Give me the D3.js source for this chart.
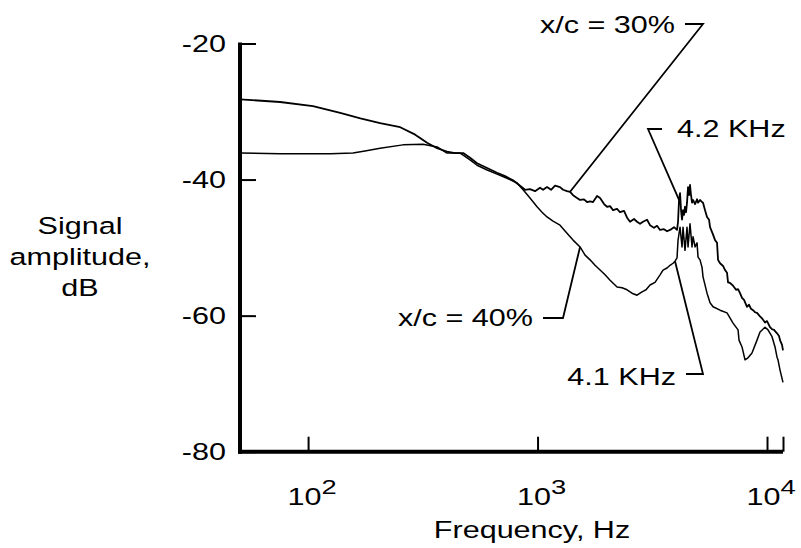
<!DOCTYPE html>
<html>
<head>
<meta charset="utf-8">
<script src="https://cdn.jsdelivr.net/npm/d3@7"></script>
<style>
  body { margin: 0; background: #fff; }
  svg { display: block; }
  text { font-family: "Liberation Sans", Arial, Helvetica, sans-serif; fill: #000; }
</style>
</head>
<body>
<svg id="chart" width="801" height="548"></svg>
<script>
// x/c = 30% (frequency in Hz, amplitude in dB)
const freq30 = [50.5, 75.5, 105, 138, 169, 206, 252, 293, 330, 365, 403, 437, 474, 508, 545, 603, 666, 722, 782, 839,
  882, 927, 975, 1025, 1057, 1100, 1145, 1192, 1253, 1292, 1344, 1386, 1428, 1486, 1532, 1594, 1643, 1694, 1745, 1817,
  1873, 1949, 2009, 2070, 2133, 2221, 2288, 2382, 2455, 2530, 2633, 2713, 2797, 2882, 3000, 3092, 3218, 3317, 3418, 3557,
  3667, 3779, 3934, 4054, 4095, 4136, 4178, 4220, 4262, 4305, 4348, 4392, 4437, 4481, 4527, 4572, 4618, 4665, 4712, 4760,
  4857, 4955, 5005, 5106, 5210, 5262, 5369, 5478, 5590, 5646, 5819, 5936, 6057, 6118, 6242, 6433, 6561, 6695, 6763, 6900,
  7111, 7329, 7477, 7627, 7781, 7941, 8182, 8347, 8516, 8690, 8864, 9045, 9322, 9511, 9607, 9802, 10000, 10306, 10515, 10727,
  11056, 11280, 11394, 11627, 11740];
const amp30 = [-28.2, -28.6, -29.2, -30.2, -31.0, -31.7, -32.3, -33.4, -34.6, -35.4, -35.9, -36.1, -36.1, -36.8, -37.6, -38.3, -39.0, -39.5, -40.1, -40.9,
  -41.5, -41.4, -41.7, -41.2, -41.5, -41.1, -41.5, -40.9, -41.1, -41.5, -41.7, -41.8, -42.3, -42.7, -43.0, -42.9, -43.3, -43.2, -43.3, -42.4,
  -42.7, -43.6, -44.0, -43.9, -44.5, -44.3, -44.8, -44.6, -45.6, -46.2, -45.8, -46.2, -46.5, -46.2, -45.9, -46.7, -47.1, -46.8, -47.4, -47.3,
  -47.6, -47.4, -47.0, -47.4, -46.2, -43.0, -42.0, -44.5, -45.9, -44.5, -45.2, -44.0, -44.8, -43.4, -41.1, -42.3, -40.8, -42.3, -43.4, -43.0,
  -43.6, -42.9, -43.4, -43.0, -43.3, -43.4, -44.5, -45.5, -45.9, -47.0, -48.1, -48.9, -49.3, -51.8, -52.3, -52.7, -53.3, -53.7, -55.1, -55.2,
  -55.6, -56.2, -56.1, -56.7, -57.4, -57.7, -58.7, -58.4, -59.0, -59.2, -59.5, -59.6, -60.1, -60.4, -60.6, -61.0, -60.8, -61.7, -62.0, -62.1,
  -62.6, -63.0, -63.6, -64.3, -65.1];

// x/c = 40%
const freq40 = [50.5, 75.5, 125, 157, 177, 206, 259, 317, 365, 403, 460, 508, 545, 603, 666, 736, 814, 865, 927, 995,
  1046, 1100, 1168, 1253, 1344, 1428, 1532, 1611, 1694, 1780, 1873, 1969, 2070, 2221, 2335, 2455, 2580, 2713, 2853, 2970,
  3092, 3251, 3418, 3523, 3667, 3779, 3894, 3973, 4054, 4095, 4178, 4262, 4305, 4392, 4481, 4527, 4618, 4712, 4760, 4857,
  4955, 5005, 5106, 5210, 5262, 5478, 5646, 5819, 6242, 6695, 7111, 7477, 7551, 7781, 8019, 8264, 8602, 9045, 9322, 9802,
  10100, 10515, 10837, 11056, 11167, 11394, 11740];
const amp40 = [-36.1, -36.2, -36.2, -36.1, -35.8, -35.4, -34.9, -34.8, -35.2, -36.1, -36.1, -37.1, -37.9, -38.6, -39.2, -39.8, -40.5, -41.5, -42.7, -44.0,
  -44.8, -45.5, -46.1, -46.7, -47.9, -48.9, -49.9, -51.1, -51.8, -52.6, -53.3, -54.0, -54.8, -55.8, -55.9, -56.2, -56.7, -57.0, -56.5, -56.2,
  -55.5, -55.1, -54.0, -53.3, -53.0, -52.6, -52.3, -52.0, -51.5, -48.9, -47.0, -49.9, -47.0, -50.4, -47.0, -49.9, -46.5, -49.9, -48.4, -49.9,
  -49.3, -51.4, -51.8, -52.9, -54.3, -56.7, -58.1, -58.7, -59.2, -59.6, -61.1, -62.1, -63.6, -64.6, -66.5, -66.2, -65.5, -63.6, -62.4, -61.7,
  -62.1, -63.1, -64.6, -66.1, -66.5, -68.0, -69.8];

const yTicks = [-20, -40, -60, -80];
const xTicks = [100, 1000, 10000];
const xTickExp = ['2', '3', '4'];

// callouts: label and the point on the curve the leader goes to
const noteLabels = ['x/c = 30%', '4.2 KHz', 'x/c = 40%', '4.1 KHz'];
const noteFreq = [1386, 4136, 1532, 3973];
const noteAmp = [-41.8, -43.0, -49.9, -52.0];

const svg = d3.select('#chart');
const fontSize = 23.5;
const stretch = 1.3; // the original lettering is wide

const x = d3.scaleLog().domain([50.5, 11740]).range([240, 783]);
const y = d3.scaleLinear().domain([-80, -20]).range([451.7, 43.5]);

function label(px, py, str, anchor)
{
  return svg.append('text')
    .attr('transform', 'translate(' + px + ',' + py + ') scale(' + stretch + ',1)')
    .attr('text-anchor', anchor)
    .style('font-size', fontSize + 'px')
    .text(str);
}

// y axis
const yAxis = d3.axisRight(y).tickValues(yTicks).tickSize(16).tickFormat('');
const yg = svg.append('g').attr('transform', 'translate(' + x.range()[0] + ',0)').call(yAxis);
yg.select('.domain').remove();
yg.selectAll('.tick line').attr('stroke', '#000').attr('stroke-width', 2);
svg.append('line')
  .attr('x1', x.range()[0]).attr('x2', x.range()[0])
  .attr('y1', y(-20) - 1).attr('y2', y(-80) + 2)
  .attr('stroke', '#000').attr('stroke-width', 4);

yTicks.forEach(v => {
  label(226, y(v) + 8, String(v), 'end');
});

// x axis
const xAxis = d3.axisTop(x).tickValues(xTicks.concat([x.domain()[1]])).tickSize(15).tickFormat('');
const xg = svg.append('g').attr('transform', 'translate(0,' + y(-80) + ')').call(xAxis);
xg.select('.domain').remove();
xg.selectAll('.tick line').attr('stroke', '#000').attr('stroke-width', 2);
svg.append('line')
  .attr('x1', x.range()[0] - 2).attr('x2', x.range()[1])
  .attr('y1', y(-80)).attr('y2', y(-80))
  .attr('stroke', '#000').attr('stroke-width', 4);

xTicks.forEach((v, i) => {
  const t = label(x(v) + 4, 505, '', 'middle');
  t.append('tspan').text('10');
  t.append('tspan').attr('dy', -11).style('font-size', '21px').text(xTickExp[i]);
});

// axis titles
label(532, 538, 'Frequency, Hz', 'middle');
label(80, 234, 'Signal', 'middle');
label(80, 265, 'amplitude,', 'middle');
label(80, 296, 'dB', 'middle');

// curves
const line = d3.line().x(d => x(d[0])).y(d => y(d[1]));

svg.append('path')
  .datum(freq40.map((f, i) => [f, amp40[i]]))
  .attr('d', line)
  .attr('fill', 'none').attr('stroke', '#000').attr('stroke-width', 1.5)
  .attr('stroke-linejoin', 'round');

svg.append('path')
  .datum(freq30.map((f, i) => [f, amp30[i]]))
  .attr('d', line)
  .attr('fill', 'none').attr('stroke', '#000').attr('stroke-width', 1.8)
  .attr('stroke-linejoin', 'round');

// callouts: label position, the short stub, then a leader to the curve
const notePos = [
  {tx: 675, ty: 33, anchor: 'end', sx0: 685, sx1: 703, sy: 24},
  {tx: 677, ty: 137, anchor: 'start', sx0: 662, sx1: 648, sy: 129},
  {tx: 533, ty: 326, anchor: 'end', sx0: 543, sx1: 563, sy: 318},
  {tx: 676, ty: 385, anchor: 'end', sx0: 686, sx1: 703, sy: 374}
];

noteLabels.forEach((txt, i) => {
  const p = notePos[i];
  label(p.tx, p.ty, txt, p.anchor);
  svg.append('path')
    .attr('d', 'M' + p.sx0 + ',' + p.sy + 'H' + p.sx1 + 'L' + x(noteFreq[i]) + ',' + y(noteAmp[i]))
    .attr('fill', 'none').attr('stroke', '#000').attr('stroke-width', 1.8);
});
</script>
</body>
</html>
